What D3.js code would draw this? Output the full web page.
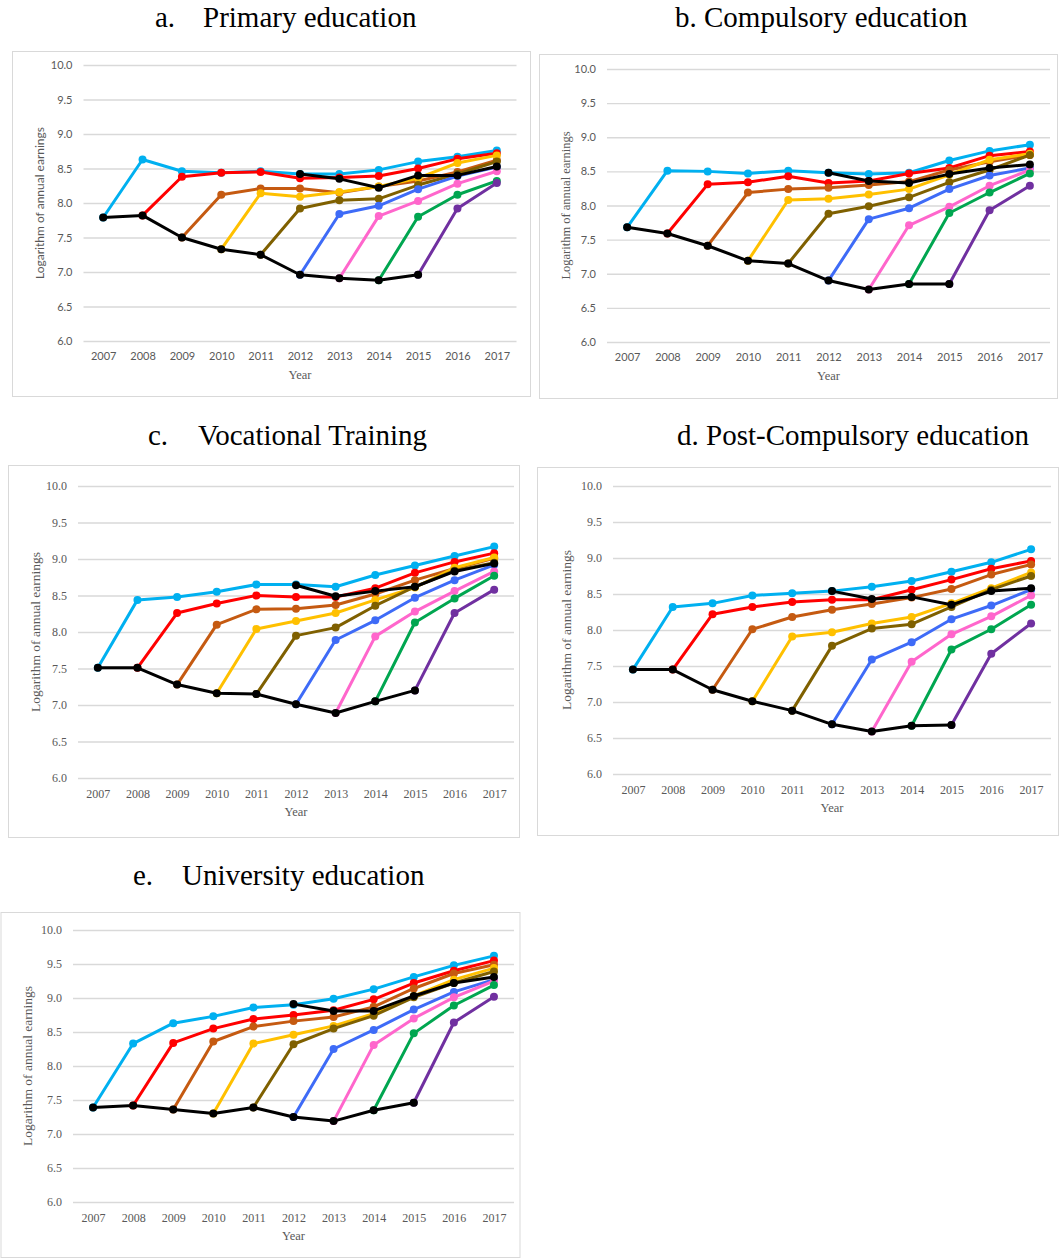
<!DOCTYPE html>
<html>
<head>
<meta charset="utf-8">
<script src="https://cdn.jsdelivr.net/npm/d3@7/dist/d3.min.js"></script>
<style>
  html, body { margin: 0; padding: 0; background: #ffffff; }
  svg { display: block; }
</style>
</head>
<body>
<svg id="chart" width="1059" height="1258"></svg>
<script>
// ---- data -------------------------------------------------------------
const years = [2007, 2008, 2009, 2010, 2011, 2012, 2013, 2014, 2015, 2016, 2017];
const yTicks = [6.0, 6.5, 7.0, 7.5, 8.0, 8.5, 9.0, 9.5, 10.0];
const panelLetters = ["a.", "b.", "c.", "d.", "e."];
const panelNames = ["Primary education", "Compulsory education", "Vocational Training",
                    "Post-Compulsory education", "University education"];
const yAxisTitle = "Logarithm of annual earnings";
const xAxisTitle = "Year";
const _ = null;

// Each panel: 9 entry-cohort series, then the 2012 reference series, then the non-employed path
const primaryEdu = [
  [7.79, 8.63, 8.46, 8.44, 8.46, 8.42, 8.42, 8.48, 8.60, 8.67, 8.76],
  [_, 7.82, 8.38, 8.44, 8.45, 8.36, 8.37, 8.39, 8.50, 8.64, 8.72],
  [_, _, 7.50, 8.12, 8.21, 8.21, 8.15, 8.24, 8.32, 8.45, 8.62],
  [_, _, _, 7.33, 8.14, 8.09, 8.16, 8.24, 8.36, 8.58, 8.69],
  [_, _, _, _, 7.25, 7.92, 8.04, 8.06, 8.26, 8.42, 8.60],
  [_, _, _, _, _, 6.96, 7.84, 7.96, 8.20, 8.39, 8.52],
  [_, _, _, _, _, _, 6.91, 7.81, 8.03, 8.28, 8.46],
  [_, _, _, _, _, _, _, 6.88, 7.80, 8.12, 8.32],
  [_, _, _, _, _, _, _, _, 6.96, 7.92, 8.29],
  [_, _, _, _, _, 8.42, 8.35, 8.22, 8.40, 8.40, 8.53],
  [7.79, 7.82, 7.50, 7.33, 7.25, 6.96, 6.91, 6.88, 6.96, _, _]
];
const compulsoryEdu = [
  [7.68, 8.51, 8.50, 8.47, 8.51, 8.48, 8.46, 8.48, 8.66, 8.80, 8.89],
  [_, 7.59, 8.31, 8.34, 8.43, 8.33, 8.36, 8.47, 8.55, 8.73, 8.79],
  [_, _, 7.41, 8.19, 8.24, 8.26, 8.30, 8.35, 8.52, 8.64, 8.74],
  [_, _, _, 7.19, 8.08, 8.10, 8.16, 8.24, 8.45, 8.67, 8.76],
  [_, _, _, _, 7.15, 7.88, 7.99, 8.12, 8.34, 8.52, 8.74],
  [_, _, _, _, _, 6.90, 7.80, 7.96, 8.24, 8.44, 8.55],
  [_, _, _, _, _, _, 6.77, 7.71, 7.98, 8.29, 8.52],
  [_, _, _, _, _, _, _, 6.85, 7.89, 8.19, 8.47],
  [_, _, _, _, _, _, _, _, 6.85, 7.93, 8.29],
  [_, _, _, _, _, 8.48, 8.36, 8.33, 8.46, 8.55, 8.60],
  [7.68, 7.59, 7.41, 7.19, 7.15, 6.90, 6.77, 6.85, 6.85, _, _]
];
const vocationalTraining = [
  [7.51, 8.44, 8.48, 8.55, 8.65, 8.65, 8.62, 8.78, 8.91, 9.04, 9.17],
  [_, 7.51, 8.26, 8.39, 8.50, 8.48, 8.48, 8.60, 8.81, 8.96, 9.08],
  [_, _, 7.28, 8.10, 8.31, 8.32, 8.37, 8.52, 8.71, 8.87, 9.01],
  [_, _, _, 7.16, 8.04, 8.15, 8.26, 8.44, 8.61, 8.88, 9.02],
  [_, _, _, _, 7.15, 7.95, 8.06, 8.36, 8.62, 8.84, 8.95],
  [_, _, _, _, _, 7.01, 7.89, 8.16, 8.47, 8.71, 8.92],
  [_, _, _, _, _, _, 6.89, 7.94, 8.28, 8.56, 8.83],
  [_, _, _, _, _, _, _, 7.05, 8.13, 8.46, 8.77],
  [_, _, _, _, _, _, _, _, 7.20, 8.26, 8.58],
  [_, _, _, _, _, 8.64, 8.49, 8.56, 8.62, 8.83, 8.94],
  [7.51, 7.51, 7.28, 7.16, 7.15, 7.01, 6.89, 7.05, 7.20, _, _]
];
const postCompulsoryEdu = [
  [7.45, 8.32, 8.37, 8.48, 8.51, 8.54, 8.60, 8.68, 8.81, 8.94, 9.12],
  [_, 7.45, 8.22, 8.32, 8.39, 8.42, 8.42, 8.56, 8.70, 8.85, 8.96],
  [_, _, 7.17, 8.01, 8.18, 8.28, 8.36, 8.45, 8.57, 8.77, 8.91],
  [_, _, _, 7.01, 7.91, 7.97, 8.09, 8.18, 8.37, 8.58, 8.80],
  [_, _, _, _, 6.88, 7.78, 8.02, 8.08, 8.32, 8.56, 8.75],
  [_, _, _, _, _, 6.69, 7.59, 7.83, 8.15, 8.34, 8.56],
  [_, _, _, _, _, _, 6.59, 7.56, 7.94, 8.19, 8.48],
  [_, _, _, _, _, _, _, 6.67, 7.73, 8.01, 8.35],
  [_, _, _, _, _, _, _, _, 6.68, 7.67, 8.09],
  [_, _, _, _, _, 8.54, 8.43, 8.46, 8.35, 8.54, 8.58],
  [7.45, 7.45, 7.17, 7.01, 6.88, 6.69, 6.59, 6.67, 6.68, _, _]
];
const universityEdu = [
  [7.39, 8.33, 8.63, 8.73, 8.86, 8.90, 8.99, 9.13, 9.31, 9.48, 9.62],
  [_, 7.42, 8.34, 8.55, 8.69, 8.75, 8.82, 8.98, 9.22, 9.40, 9.55],
  [_, _, 7.36, 8.36, 8.58, 8.66, 8.72, 8.87, 9.14, 9.36, 9.49],
  [_, _, _, 7.30, 8.33, 8.46, 8.59, 8.77, 9.03, 9.27, 9.44],
  [_, _, _, _, 7.39, 8.32, 8.55, 8.74, 9.01, 9.22, 9.39],
  [_, _, _, _, _, 7.25, 8.25, 8.53, 8.83, 9.09, 9.27],
  [_, _, _, _, _, _, 7.19, 8.31, 8.70, 9.01, 9.25],
  [_, _, _, _, _, _, _, 7.35, 8.48, 8.89, 9.19],
  [_, _, _, _, _, _, _, _, 7.46, 8.64, 9.02],
  [_, _, _, _, _, 8.91, 8.81, 8.81, 9.03, 9.22, 9.31],
  [7.39, 7.42, 7.36, 7.30, 7.39, 7.25, 7.19, 7.35, 7.46, _, _]
];
const panelData = [primaryEdu, compulsoryEdu, vocationalTraining, postCompulsoryEdu, universityEdu];

// ---- styling & layout ---------------------------------------------------
const seriesColors = ["#00B0F0", "#FF0000", "#C55A11", "#FFC000", "#7F6000",
                      "#3E6BF7", "#FF66CC", "#00A650", "#7030A0", "#000000", "#000000"];
const SANS = "Lato, 'Open Sans', sans-serif";
const SERIF = "'Liberation Serif', 'Times New Roman', serif";

const layout = [
  { frame: [12, 51, 519, 346], gx: [83.5, 516.5], gy: [341, 65], tickFont: SANS, tickSize: 11,
    yLabFont: SANS, yLabSize: 12, yLabX: 40,
    title: { y: 27, parts: [[155, panelLetters[0]], [203, panelNames[0]]] } },
  { frame: [539, 54, 519, 345], gx: [607, 1050], gy: [342, 69], tickFont: SANS, tickSize: 11,
    yLabFont: SERIF, yLabSize: 12.5, yLabX: 566,
    title: { y: 27, parts: [[675, panelLetters[1] + " " + panelNames[1]]] } },
  { frame: [8, 465, 512, 373], gx: [78, 514], gy: [778, 486], tickFont: SERIF, tickSize: 12,
    yLabFont: SERIF, yLabSize: 13.5, yLabX: 35,
    title: { y: 445, parts: [[148, panelLetters[2]], [198, panelNames[2]]] } },
  { frame: [537, 467, 522, 369], gx: [613, 1051], gy: [774, 486], tickFont: SERIF, tickSize: 12,
    yLabFont: SERIF, yLabSize: 13.5, yLabX: 566,
    title: { y: 445, parts: [[677, panelLetters[3] + " " + panelNames[3]]] } },
  { frame: [0.5, 912, 520, 346], gx: [73, 514], gy: [1202, 930], tickFont: SERIF, tickSize: 12,
    yLabFont: SERIF, yLabSize: 13.5, yLabX: 27,
    title: { y: 885, parts: [[133, panelLetters[4]], [182, panelNames[4]]] } }
];

const svg = d3.select("#chart");

layout.forEach((L, p) => {
  const g = svg.append("g");
  const [fx, fy, fw, fh] = L.frame;

  g.append("rect")
    .attr("x", fx + 0.5).attr("y", fy + 0.5)
    .attr("width", fw - 1).attr("height", fh - 1)
    .attr("fill", "#ffffff").attr("stroke", "#d9d9d9").attr("stroke-width", 1);

  // title
  const t = svg.append("text")
    .attr("y", L.title.y)
    .attr("font-family", SERIF).attr("font-size", 29).attr("fill", "#000");
  L.title.parts.forEach(([x, s]) => t.append("tspan").attr("x", x).text(s));

  const x = d3.scalePoint().domain(years).range(L.gx).padding(0.5);
  const y = d3.scaleLinear().domain([6, 10]).range(L.gy);

  // horizontal gridlines + value labels
  const yAxis = d3.axisLeft(y).tickValues(yTicks).tickFormat(d3.format(".1f"))
    .tickSizeInner(-(L.gx[1] - L.gx[0])).tickSizeOuter(0).tickPadding(11);
  const gy = g.append("g").attr("transform", `translate(${L.gx[0]},0)`).call(yAxis);
  gy.select(".domain").remove();
  gy.selectAll(".tick line").attr("stroke", "#d9d9d9").attr("stroke-width", 1.3);
  gy.selectAll(".tick text").attr("fill", "#595959")
    .attr("font-family", L.tickFont).attr("font-size", L.tickSize);

  // year labels
  const xAxis = d3.axisBottom(x).tickSize(0).tickPadding(11);
  const gxA = g.append("g").attr("transform", `translate(0,${L.gy[0]})`).call(xAxis);
  gxA.select(".domain").remove();
  gxA.selectAll(".tick text").attr("fill", "#595959")
    .attr("font-family", L.tickFont).attr("font-size", L.tickSize);

  // axis titles
  g.append("text")
    .attr("x", (L.gx[0] + L.gx[1]) / 2).attr("y", L.gy[0] + 38)
    .attr("text-anchor", "middle")
    .attr("font-family", SERIF).attr("font-size", 12.5).attr("fill", "#595959")
    .text(xAxisTitle);
  g.append("text")
    .attr("transform", `translate(${L.yLabX},${(L.gy[0] + L.gy[1]) / 2}) rotate(-90)`)
    .attr("text-anchor", "middle").attr("dy", "0.35em")
    .attr("font-family", L.yLabFont).attr("font-size", L.yLabSize)
    .attr("fill", "#595959")
    .text(yAxisTitle);

  // series lines and markers
  const line = d3.line()
    .defined(d => d.v != null)
    .x(d => x(d.year)).y(d => y(d.v));

  panelData[p].forEach((vals, s) => {
    const pts = vals.map((v, i) => ({ year: years[i], v }));
    const sg = g.append("g");
    sg.append("path").datum(pts)
      .attr("d", line)
      .attr("fill", "none").attr("stroke", seriesColors[s])
      .attr("stroke-width", 3).attr("stroke-linejoin", "round").attr("stroke-linecap", "round");
    sg.selectAll("circle").data(pts.filter(d => d.v != null)).join("circle")
      .attr("cx", d => x(d.year)).attr("cy", d => y(d.v))
      .attr("r", 4).attr("fill", seriesColors[s]);
  });
});
</script>
</body>
</html>
